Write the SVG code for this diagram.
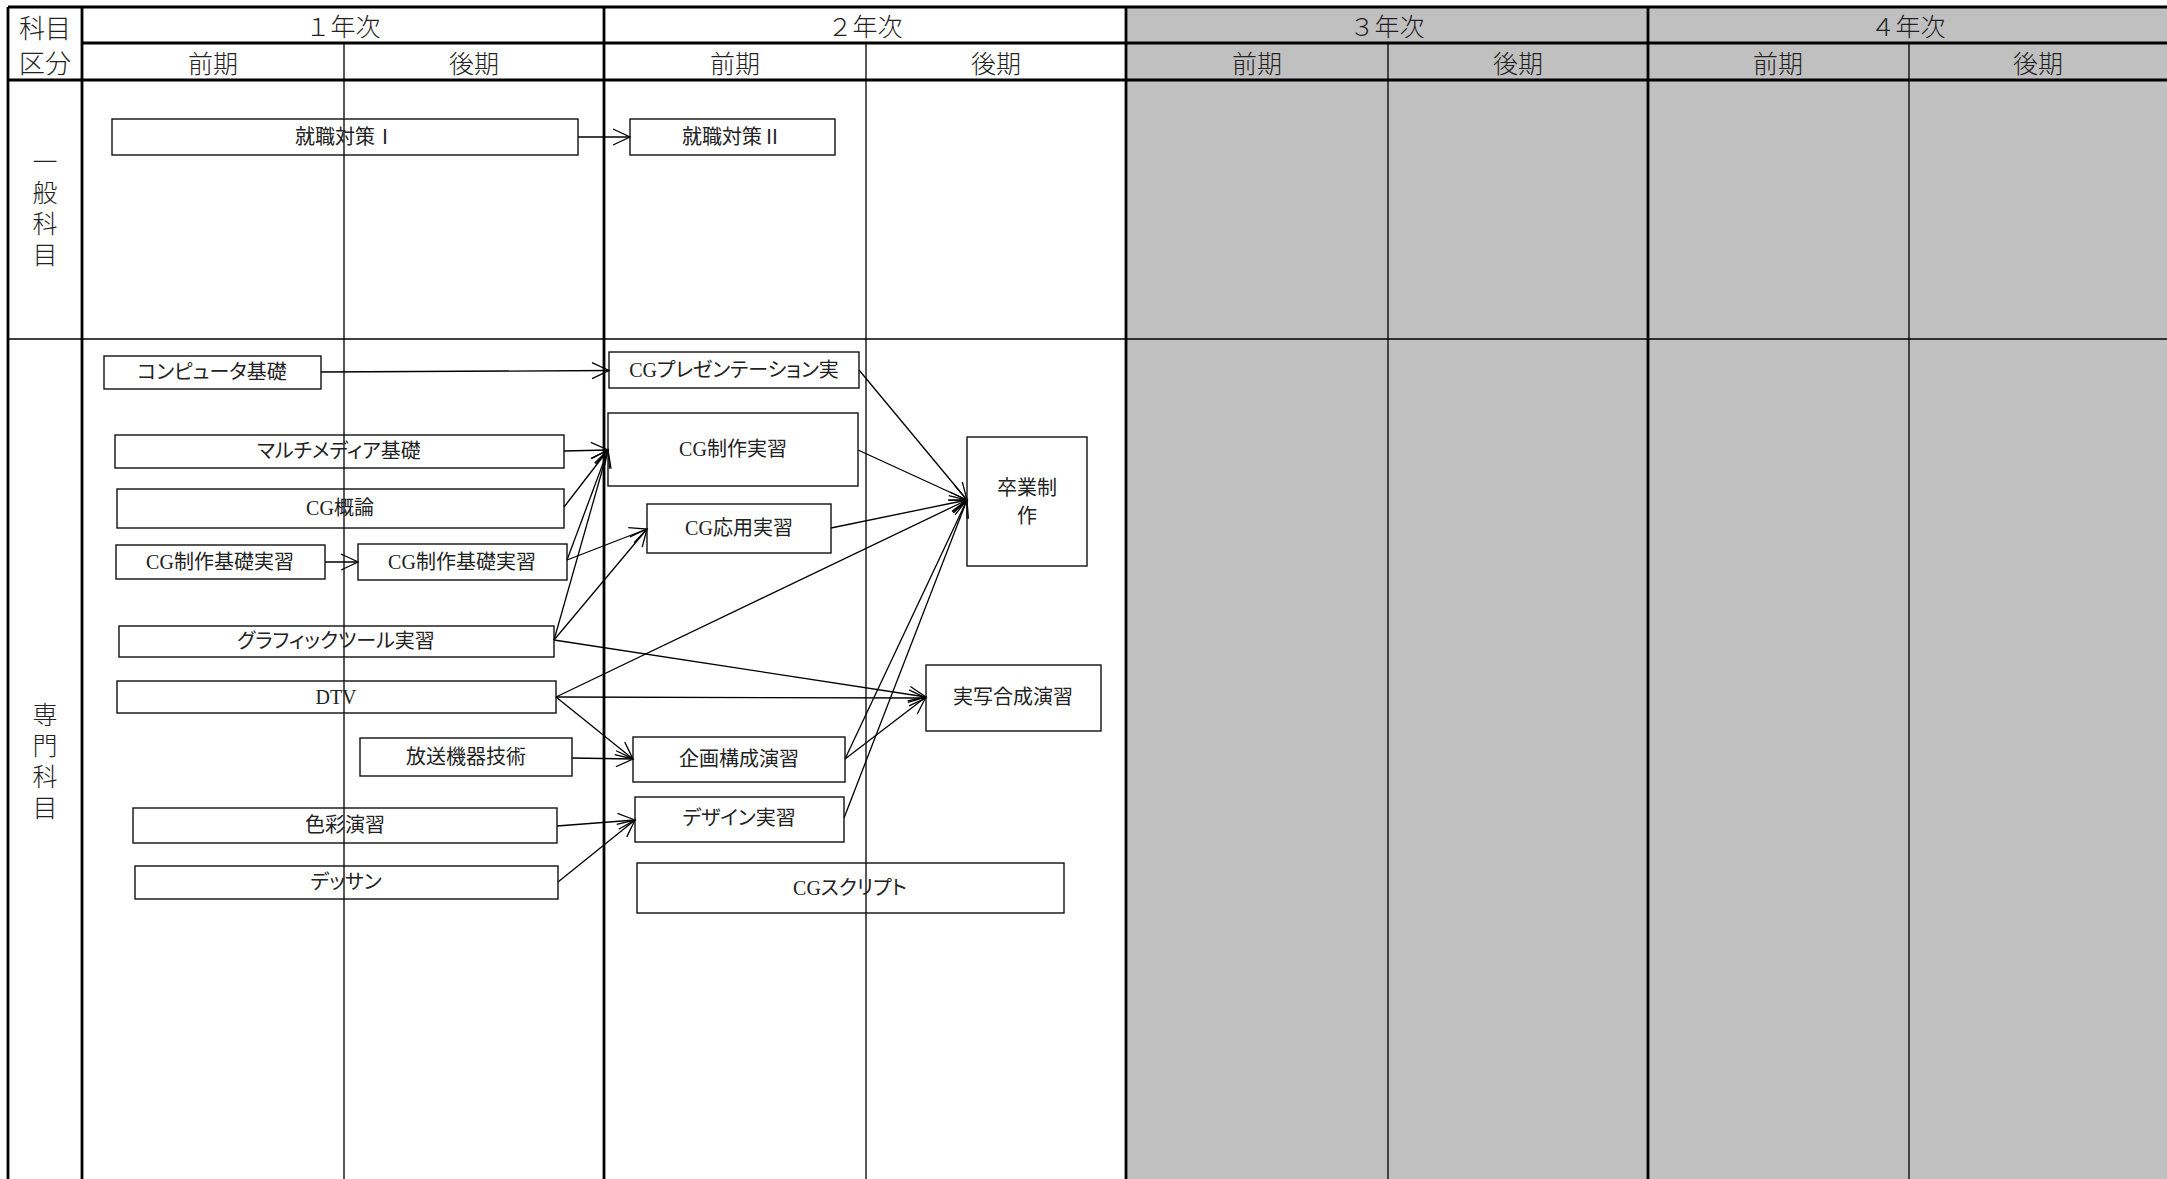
<svg xmlns="http://www.w3.org/2000/svg" width="2167" height="1179" viewBox="0 0 2167 1179">
<defs>
<style>
.thick{stroke:#000;stroke-width:2.8;fill:none}
.thin{stroke:#000;stroke-width:1.3;fill:none}
.hdr{font-family:"Noto Sans CJK JP",sans-serif;font-size:25px;fill:#222;text-anchor:middle;dominant-baseline:central;font-weight:300}
.vert{font-family:"Noto Sans CJK JP",sans-serif;font-size:25px;fill:#222;text-anchor:middle;font-weight:300;writing-mode:vertical-rl;letter-spacing:6px}
.box rect{fill:none;stroke:#111;stroke-width:1.4}
.box text{font-family:"Liberation Serif","Noto Sans CJK JP",serif;font-size:20px;fill:#222;text-anchor:middle;dominant-baseline:central;font-feature-settings:"palt"}
.conn line{stroke:#000;stroke-width:1.3;marker-end:url(#arr)}
</style>
<marker id="arr" markerUnits="userSpaceOnUse" viewBox="-20 -10 22 20" refX="0" refY="0" markerWidth="22" markerHeight="20" orient="auto"><path d="M-17,-8 L0,0 L-17,8" fill="none" stroke="#000" stroke-width="1.3"/></marker>
</defs>
<rect x="0" y="0" width="2167" height="1179" fill="#fff"/>
<g id="grid">
<rect x="1126" y="7" width="1041" height="1172" fill="#c0c0c0"/>
<path class="thin" d="M8,339H2167 M344,43V1179 M866,43V1179 M1388,43V1179 M1909,43V1179"/>
<path class="thick" d="M8,7H2167 M82,43H2167 M8,80H2167 M8,7V1179 M82,7V1179 M604,7V1179 M1126,7V1179 M1648,7V1179"/>
</g>
<g id="headers">
<text class="hdr" x="45" y="26" style="font-size:26px">科目</text>
<text class="hdr" x="45" y="61" style="font-size:26px">区分</text>
<text class="hdr" x="343" y="25">１年次</text>
<text class="hdr" x="865" y="25">２年次</text>
<text class="hdr" x="1387" y="25">３年次</text>
<text class="hdr" x="1908" y="25">４年次</text>
<text class="hdr" x="213" y="62">前期</text>
<text class="hdr" x="474" y="62">後期</text>
<text class="hdr" x="735" y="62">前期</text>
<text class="hdr" x="996" y="62">後期</text>
<text class="hdr" x="1257" y="62">前期</text>
<text class="hdr" x="1518" y="62">後期</text>
<text class="hdr" x="1778" y="62">前期</text>
<text class="hdr" x="2038" y="62">後期</text>
<text id="label-general" class="vert" x="45" y="211">一般科目</text>
<text id="label-special" class="vert" x="45" y="764">専門科目</text>
</g>
<g id="connectors" class="conn">
<line x1="578" y1="137" x2="630" y2="137"/>
<line x1="321" y1="372" x2="609" y2="370.5"/>
<line x1="564" y1="451" x2="608" y2="450"/>
<line x1="564" y1="507" x2="608" y2="450"/>
<line x1="325" y1="562" x2="358" y2="562"/>
<line x1="567" y1="560" x2="608" y2="450"/>
<line x1="567" y1="560" x2="647" y2="529"/>
<line x1="554" y1="640" x2="608" y2="450"/>
<line x1="554" y1="640" x2="647" y2="529"/>
<line x1="554" y1="640" x2="926" y2="697"/>
<line x1="556" y1="697" x2="967" y2="500"/>
<line x1="556" y1="697" x2="926" y2="698"/>
<line x1="556" y1="697" x2="633" y2="759"/>
<line x1="572" y1="758" x2="633" y2="759"/>
<line x1="557" y1="826" x2="635" y2="820"/>
<line x1="558" y1="882" x2="635" y2="820"/>
<line x1="859" y1="370" x2="967" y2="500"/>
<line x1="858" y1="450" x2="967" y2="500"/>
<line x1="831" y1="528" x2="967" y2="500"/>
<line x1="845" y1="759" x2="967" y2="500"/>
<line x1="845" y1="759" x2="926" y2="697"/>
<line x1="844" y1="818" x2="967" y2="500"/>
</g>
<g id="n1" class="box"><rect x="112" y="119" width="466" height="36"/><text x="345" y="137">就職対策Ⅰ</text></g>
<g id="n2" class="box"><rect x="630" y="119" width="205" height="36"/><text x="732" y="137">就職対策Ⅱ</text></g>
<g id="n3" class="box"><rect x="104" y="356" width="217" height="33"/><text x="212" y="372">コンピュータ基礎</text></g>
<g id="n4" class="box"><rect x="115" y="435" width="449" height="33"/><text x="339" y="451">マルチメディア基礎</text></g>
<g id="n5" class="box"><rect x="117" y="489" width="447" height="39"/><text x="340" y="508">CG概論</text></g>
<g id="n6" class="box"><rect x="116" y="545" width="209" height="34"/><text x="220" y="562">CG制作基礎実習</text></g>
<g id="n7" class="box"><rect x="358" y="544" width="209" height="36"/><text x="462" y="562">CG制作基礎実習</text></g>
<g id="n8" class="box"><rect x="119" y="626" width="435" height="31"/><text x="336" y="641">グラフィックツール実習</text></g>
<g id="n9" class="box"><rect x="117" y="681" width="439" height="32"/><text x="336" y="697">DTV</text></g>
<g id="n10" class="box"><rect x="360" y="738" width="212" height="38"/><text x="466" y="757">放送機器技術</text></g>
<g id="n11" class="box"><rect x="133" y="808" width="424" height="35"/><text x="345" y="825">色彩演習</text></g>
<g id="n12" class="box"><rect x="135" y="866" width="423" height="33"/><text x="346" y="882">デッサン</text></g>
<g id="n13" class="box"><rect x="609" y="352" width="250" height="36"/><text x="734" y="370">CGプレゼンテーション実</text></g>
<g id="n14" class="box"><rect x="608" y="413" width="250" height="73"/><text x="733" y="449">CG制作実習</text></g>
<g id="n15" class="box"><rect x="647" y="504" width="184" height="49"/><text x="739" y="528">CG応用実習</text></g>
<g id="n16" class="box"><rect x="967" y="437" width="120" height="129"/><text x="1027" y="488">卒業制</text><text x="1027" y="516">作</text></g>
<g id="n17" class="box"><rect x="926" y="665" width="175" height="66"/><text x="1013" y="697">実写合成演習</text></g>
<g id="n18" class="box"><rect x="633" y="737" width="212" height="45"/><text x="739" y="759">企画構成演習</text></g>
<g id="n19" class="box"><rect x="635" y="797" width="209" height="45"/><text x="739" y="818">デザイン実習</text></g>
<g id="n20" class="box"><rect x="637" y="863" width="427" height="50"/><text x="850" y="888">CGスクリプト</text></g>
</svg>
